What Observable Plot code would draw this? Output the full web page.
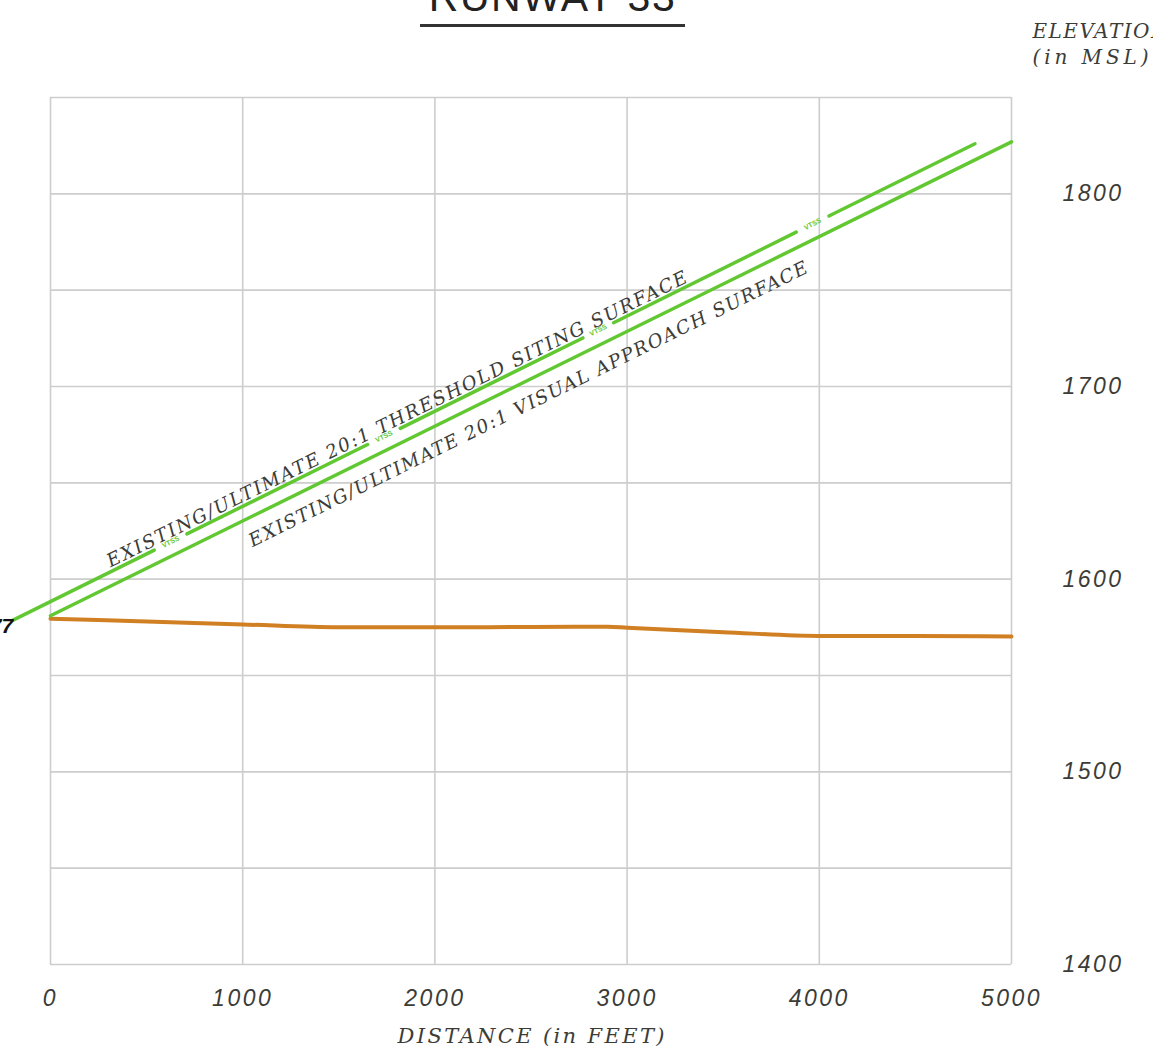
<!DOCTYPE html>
<html><head><meta charset="utf-8">
<script src="https://cdn.jsdelivr.net/npm/d3@7"></script>
<script src="https://cdn.jsdelivr.net/npm/@observablehq/plot@0.6"></script>
<style>
html,body{margin:0;padding:0;background:#fff;overflow:hidden;width:1153px;height:1058px;}
#wrap{position:relative;width:1153px;height:1058px;overflow:hidden;}
#chart{position:absolute;left:0;top:0;}
#title{position:absolute;left:400px;width:305px;top:-23px;text-align:center;font-family:"Liberation Sans",Arial,sans-serif;font-size:41px;line-height:41px;letter-spacing:1.5px;color:#222;white-space:nowrap;}
#uline{position:absolute;left:420px;width:265px;top:24px;height:2.5px;background:#333;}
</style></head><body>
<div id="wrap"><div id="chart"></div><div id="title">RUNWAY 33</div><div id="uline"></div></div>
<script>
// Axis ticks and grid
const xTicks = [0, 1000, 2000, 3000, 4000, 5000];
const yTicks = [1400, 1500, 1600, 1700, 1800];
const yGrid = [1400, 1450, 1500, 1550, 1600, 1650, 1700, 1750, 1800, 1850];

// Ground profile (orange)
const terrainDist = [0, 500, 1000, 1500, 2000, 2500, 2900, 3000, 3500, 4000, 4500, 5000];
const terrainElev = [1579.5, 1578, 1576.5, 1575, 1575, 1575.2, 1575.3, 1574.8, 1572.5, 1570.5, 1570.5, 1570.3];

// Threshold siting surface (upper green, broken line)
const tssStartDist = [-200, 710, 1820, 2930, 4050];
const tssStartElev = [1578.5, 1623.5, 1678.3, 1733.1, 1788.5];
const tssEndDist = [540, 1650, 2770, 3880, 4810];
const tssEndElev = [1615.1, 1669.9, 1725.2, 1780.1, 1826];
const tssMarkDist = [625, 1735, 2850, 3965];
const tssMarkElev = [1619.3, 1674.1, 1729.2, 1784.3];

// Visual approach surface (lower green)
const vasDist = [0, 5000];
const vasElev = [1581, 1827];

// Surface labels
const labelText = ["EXISTING/ULTIMATE 20:1 THRESHOLD SITING SURFACE", "EXISTING/ULTIMATE 20:1 VISUAL APPROACH SURFACE"];
const labelDist = [312, 1051];
const labelElev = [1606, 1616.6];

// Runway end elevation label (cut off at left)
const rwyEndText = ["1577"];
const rwyEndDist = [-200];
const rwyEndElev = [1575.4];

const GREEN = "#62c832", ORANGE = "#d07f22", GRID = "#cdcdcd", TXT = "#3c3c37";
const SERIF = "DejaVu Serif, serif", SANS = "Liberation Sans, Arial, sans-serif";

const terrain = terrainDist.map((d, i) => ({d, e: terrainElev[i]}));
const tss = tssStartDist.map((d, i) => ({x1: d, y1: tssStartElev[i], x2: tssEndDist[i], y2: tssEndElev[i]}));
const tssMarks = tssMarkDist.map((d, i) => ({d, e: tssMarkElev[i]}));
const vas = vasDist.map((d, i) => ({d, e: vasElev[i]}));
const labels = labelText.map((t, i) => ({t, d: labelDist[i], e: labelElev[i]}));
const rwyEnd = rwyEndText.map((t, i) => ({t, d: rwyEndDist[i], e: rwyEndElev[i]}));

const svg = Plot.plot({
  width: 1153, height: 1058,
  marginLeft: 50, marginRight: 142, marginTop: 97, marginBottom: 94,
  x: {domain: [0, 5000], axis: null},
  y: {domain: [1400, 1850], axis: null},
  style: {background: "white", overflow: "visible"},
  marks: [
    Plot.ruleY(yGrid, {y: d => d, stroke: GRID, strokeWidth: 1.6}),
    Plot.ruleX(xTicks, {x: d => d, stroke: GRID, strokeWidth: 1.6}),
    Plot.line(terrain, {x: "d", y: "e", stroke: ORANGE, strokeWidth: 4, curve: "monotone-x"}),
    Plot.link(tss, {x1: "x1", y1: "y1", x2: "x2", y2: "y2", stroke: GREEN, strokeWidth: 3.5, strokeLinecap: "round"}),
    Plot.line(vas, {x: "d", y: "e", stroke: GREEN, strokeWidth: 3.5}),
    Plot.text(tssMarks, {x: "d", y: "e", text: () => "VTSS", fill: GREEN, fontSize: 7, fontWeight: "bold", rotate: -26.3, fontFamily: SANS}),
    Plot.text(labels, {x: "d", y: "e", text: "t", textAnchor: "start", lineAnchor: "bottom", rotate: -26.3, fill: TXT, fontSize: 18.5, fontStyle: "italic", fontFamily: SERIF, className: "surf"}),
    Plot.text(rwyEnd, {x: "d", y: "e", text: "t", textAnchor: "end", dx: 1, fill: "#111", fontSize: 21, fontWeight: "bold", fontStyle: "italic", fontFamily: SANS}),
    Plot.text(xTicks, {x: d => d, frameAnchor: "bottom", lineAnchor: "middle", dy: 34, text: d => String(d), fill: TXT, fontSize: 23, fontStyle: "italic", fontFamily: SANS, className: "tick"}),
    Plot.text(yTicks, {y: d => d, frameAnchor: "right", lineAnchor: "middle", dx: 51, textAnchor: "start", text: d => String(d), fill: TXT, fontSize: 23, fontStyle: "italic", fontFamily: SANS, className: "tick"}),
    Plot.text(["DISTANCE (in FEET)"], {frameAnchor: "bottom", lineAnchor: "middle", dy: 72, text: d => d, fill: TXT, fontSize: 21, fontStyle: "italic", fontFamily: SERIF, className: "xtitle"}),
    Plot.text(["ELEVATION"], {frameAnchor: "top-right", lineAnchor: "middle", dx: 21, dy: -66, text: d => d, textAnchor: "start", fill: TXT, fontSize: 20, fontStyle: "italic", fontFamily: SERIF, className: "ytitle1"}),
    Plot.text(["(in MSL)"], {frameAnchor: "top-right", lineAnchor: "middle", dx: 21, dy: -40, text: d => d, textAnchor: "start", fill: TXT, fontSize: 20, fontStyle: "italic", fontFamily: SERIF, className: "ytitle2"})
  ]
});
document.getElementById("chart").appendChild(svg);
const s = d3.select(svg);
s.selectAll(".tick text").style("letter-spacing", "2.5px");
const surfLen = [645, 621];
s.selectAll(".surf text").each(function(_, i) {
  d3.select(this).attr("textLength", surfLen[i]).attr("lengthAdjust", "spacing");
});
s.selectAll(".xtitle text").attr("textLength", 267).attr("lengthAdjust", "spacing");
s.selectAll(".ytitle1 text").attr("textLength", 136).attr("lengthAdjust", "spacing");
s.selectAll(".ytitle2 text").attr("textLength", 116).attr("lengthAdjust", "spacing");
</script>
</body></html>
